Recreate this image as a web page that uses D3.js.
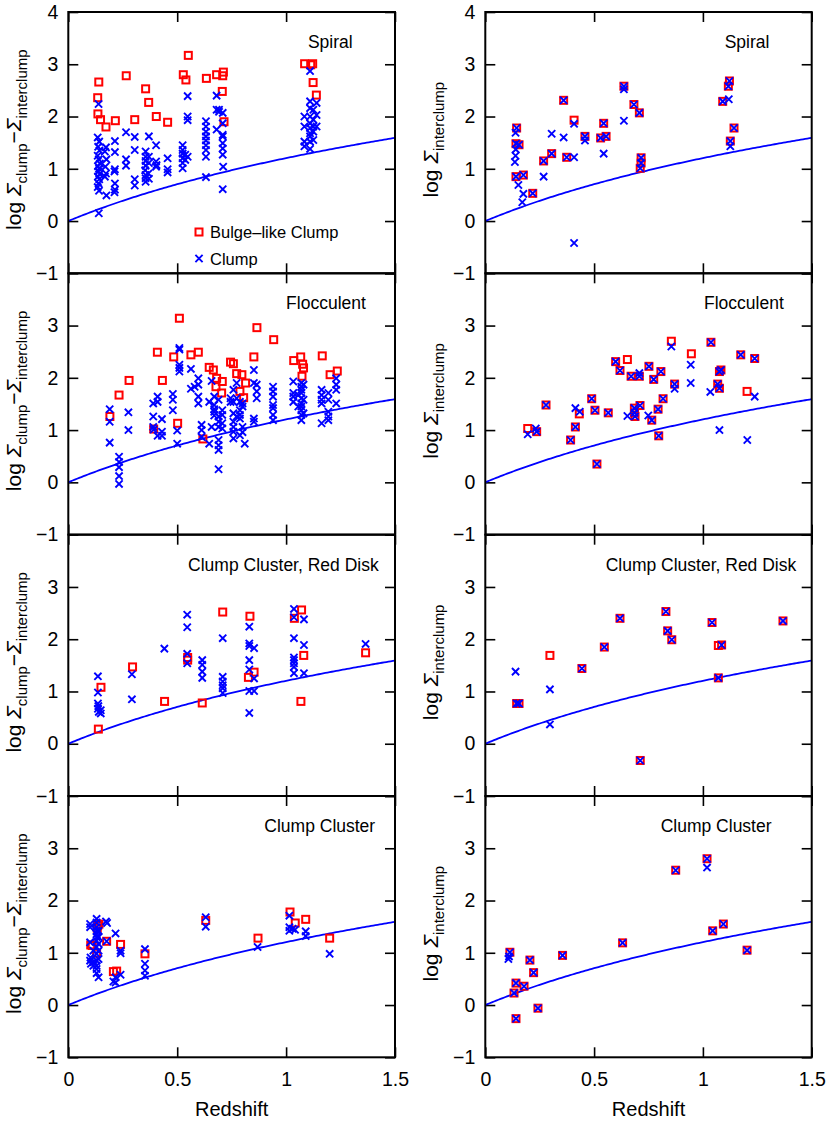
<!DOCTYPE html>
<html><head><meta charset="utf-8">
<script src="https://cdn.jsdelivr.net/npm/d3@7"></script>
<style>
body{margin:0;background:#fff}
svg{display:block}
text{font-family:"Liberation Sans",Arial,Helvetica,sans-serif;fill:#000}
</style>
</head><body>
<svg id="c" width="830" height="1126"></svg>
<script>
// ---------------- DATA ----------------
const panelTitles = ["Spiral", "Flocculent", "Clump Cluster, Red Disk", "Clump Cluster"];
const xTickValues = [0, 0.5, 1, 1.5];
const xTickLabels = ["0", "0.5", "1", "1.5"];
const yTickValues = [-1, 0, 1, 2, 3, 4];
const yTickLabels = ["\u22121", "0", "1", "2", "3", "4"];
const legendLabels = ["Bulge\u2013like Clump", "Clump"];
const xAxisTitle = "Redshift";

// Spiral, log Σclump − Σinterclump  [redshift, value]
const spiralBulgeL = [[0.14,2.66],[0.135,2.36],[0.136,2.05],[0.148,1.94],[0.173,1.80],[0.216,1.92],[0.266,2.78],[0.305,1.94],[0.355,2.53],[0.369,2.27],[0.404,2.00],[0.456,1.89],[0.528,2.80],[0.540,2.70],[0.551,3.17],[0.634,2.73],[0.681,2.80],[0.712,2.85],[0.709,2.78],[0.707,2.48],[0.715,1.90],[1.085,3.01],[1.113,2.99],[1.122,3.01],[1.124,2.65],[1.139,2.41]];
const spiralClumpL = [[0.139,2.24],[0.135,1.60],[0.142,1.52],[0.137,1.42],[0.143,1.35],[0.135,1.25],[0.140,1.18],[0.145,1.10],[0.136,1.05],[0.141,1.00],[0.138,0.95],[0.144,0.90],[0.136,0.85],[0.142,0.80],[0.139,0.72],[0.135,0.65],[0.141,0.58],[0.140,0.15],
[0.173,1.41],[0.168,1.33],[0.175,1.18],[0.170,1.04],[0.173,0.91],[0.168,0.85],[0.175,0.49],
[0.214,1.53],[0.214,1.32],[0.214,0.99],[0.212,0.95],[0.214,0.72],[0.214,0.60],[0.212,0.55],
[0.265,1.70],[0.265,1.18],[0.265,1.06],
[0.305,1.61],[0.305,1.36],[0.305,0.80],[0.305,0.68],
[0.355,1.33],[0.355,1.23],[0.355,1.15],[0.355,1.06],[0.353,0.97],[0.355,0.88],[0.355,0.82],[0.355,0.75],
[0.370,1.62],[0.370,1.23],[0.370,1.11],[0.368,0.91],[0.370,0.81],
[0.403,1.45],[0.403,1.14],[0.405,1.07],[0.403,1.04],
[0.456,1.20],[0.456,0.99],[0.456,0.93],
[0.525,1.45],[0.525,1.36],[0.525,1.29],[0.525,1.20],[0.525,1.11],[0.525,1.01],
[0.537,1.27],[0.537,1.17],
[0.548,2.39],[0.548,2.00],[0.548,1.93],[0.548,1.23],
[0.632,1.91],[0.632,1.81],[0.632,1.71],[0.632,1.62],[0.632,1.54],[0.632,1.45],[0.632,1.36],[0.632,1.23],[0.632,0.84],
[0.681,2.40],[0.681,2.13],[0.681,1.75],
[0.692,2.13],[0.692,2.09],
[0.709,2.07],[0.709,1.87],[0.709,1.65],[0.709,1.62],[0.709,1.49],[0.709,1.39],[0.709,1.27],[0.711,1.04],[0.709,0.61],
[1.084,2.00],[1.084,1.81],[1.084,1.52],[1.084,1.43],
[1.110,2.87],[1.110,2.29],[1.110,2.16],[1.110,2.00],[1.110,1.87],[1.110,1.78],[1.110,1.68],[1.110,1.62],[1.110,1.52],[1.110,1.38],
[1.125,2.13],[1.125,1.94],[1.125,1.81],[1.125,1.71],[1.125,1.55],
[1.140,2.26],[1.140,2.03],[1.140,1.81]];

// Spiral, log Σinterclump
const spiralBulgeR = [[0.144,1.78],[0.141,1.48],[0.155,1.46],[0.141,0.85],[0.175,0.88],[0.218,0.53],[0.268,1.15],[0.305,1.29],[0.360,2.31],[0.374,1.22],[0.408,1.93],[0.458,1.62],[0.530,1.59],[0.544,1.87],[0.555,1.62],[0.637,2.58],[0.683,2.23],[0.708,2.07],[0.716,1.21],[0.716,1.11],[0.712,1.01],[1.091,2.29],[1.117,2.58],[1.122,2.68],[1.126,1.53],[1.143,1.78]];
const spiralClumpR = [[0.144,1.78],[0.141,1.48],[0.155,1.46],[0.141,0.85],[0.175,0.88],[0.218,0.53],[0.268,1.15],[0.305,1.29],[0.360,2.31],[0.374,1.22],[0.458,1.62],[0.530,1.59],[0.544,1.87],[0.555,1.62],[0.637,2.58],[0.683,2.23],[0.708,2.07],[0.716,1.21],[0.716,1.11],[0.712,1.01],[1.091,2.29],[1.117,2.58],[1.122,2.68],[1.126,1.53],[1.143,1.78],
[0.139,1.69],[0.140,1.37],[0.139,1.25],[0.136,1.13],[0.152,0.69],[0.175,0.52],[0.170,0.36],[0.268,0.85],[0.305,1.67],[0.360,1.60],[0.408,1.22],[0.408,1.86],[0.408,-0.42],[0.458,1.54],[0.544,1.29],[0.637,2.52],[0.637,1.92],[1.119,2.33],[1.126,1.43]];

// Flocculent, log Σclump − Σinterclump
const floccBulgeL = [[0.191,1.26],[0.233,1.67],[0.279,1.95],[0.392,1.02],[0.409,2.49],[0.432,1.95],[0.484,2.40],[0.502,1.13],[0.510,3.14],[0.563,2.44],[0.597,2.49],[0.618,0.83],[0.647,2.20],[0.666,2.15],[0.681,1.99],[0.678,1.83],[0.707,1.93],[0.704,1.71],[0.745,2.30],[0.758,2.27],[0.773,2.08],[0.797,2.06],[0.788,1.74],[0.805,1.62],[0.814,1.90],[0.852,2.40],[0.866,2.96],[0.943,2.73],[1.035,2.33],[1.067,2.40],[1.076,2.26],[1.080,2.19],[1.073,2.03],[1.166,2.42],[1.202,2.06],[1.235,2.13]];
const floccClumpL = [[0.19,1.40],[0.19,1.16],[0.19,0.76],
[0.233,0.49],[0.233,0.39],[0.233,0.29],[0.233,0.12],[0.233,-0.03],
[0.276,1.34],[0.276,1.00],
[0.39,1.51],[0.39,1.26],[0.39,1.06],[0.392,1.01],
[0.41,1.64],[0.41,1.54],[0.41,0.89],
[0.43,1.21],[0.43,0.97],[0.43,0.89],
[0.48,1.69],[0.48,1.58],[0.48,1.38],
[0.50,0.99],[0.50,0.74],
[0.51,2.57],[0.51,2.54],[0.51,2.25],[0.51,2.19],[0.51,2.12],
[0.563,2.17],[0.563,1.79],
[0.58,1.83],
[0.597,1.99],[0.597,1.87],[0.597,1.64],[0.597,1.51],
[0.612,1.10],[0.612,1.00],[0.612,0.87],
[0.647,1.54],[0.647,0.74],
[0.658,1.94],[0.658,1.06],
[0.67,1.64],[0.67,1.48],[0.67,1.40],[0.67,1.35],[0.67,1.28],
[0.69,1.58],[0.69,1.26],[0.69,1.16],[0.69,1.06],[0.69,0.81],[0.69,0.71],[0.69,0.62],[0.69,0.25],
[0.707,1.38],[0.707,1.29],[0.707,1.13],[0.707,1.03],
[0.745,1.61],[0.745,1.54],
[0.758,1.77],[0.758,1.54],[0.758,1.32],[0.758,1.16],[0.758,1.06],[0.758,0.97],[0.758,0.84],
[0.773,1.90],[0.773,1.61],[0.773,1.26],
[0.788,1.54],[0.788,1.38],[0.788,1.29],[0.788,1.22],[0.788,0.90],
[0.80,1.51],[0.80,1.45],[0.80,1.06],[0.80,0.96],
[0.81,0.74],
[0.852,2.15],[0.852,1.90],[0.852,1.22],[0.852,1.16],
[0.865,1.87],[0.865,1.74],[0.865,1.61],
[0.94,1.83],[0.94,1.74],[0.94,1.64],[0.94,1.48],[0.94,1.42],[0.94,1.29],[0.94,1.19],
[1.033,1.93],[1.033,1.71],[1.033,1.64],[1.033,1.54],
[1.056,1.67],[1.056,1.45],
[1.07,1.90],[1.07,1.83],[1.07,1.77],[1.07,1.71],[1.07,1.61],[1.07,1.51],[1.07,1.45],[1.07,1.38],[1.07,1.29],[1.07,1.19],
[1.08,1.87],[1.08,1.58],[1.08,1.32],
[1.163,1.77],[1.163,1.67],[1.163,1.58],[1.163,1.51],[1.163,1.13],
[1.194,1.71],[1.194,1.58],[1.194,1.35],[1.194,1.26],[1.194,1.19],
[1.23,1.99],[1.23,1.87],[1.23,1.77],[1.23,1.51]];

// Flocculent, log Σinterclump
const floccBulgeR = [[0.195,1.03],[0.236,0.97],[0.279,1.48],[0.392,0.81],[0.414,1.06],[0.432,1.31],[0.489,1.60],[0.504,1.38],[0.513,0.35],[0.565,1.33],[0.599,2.31],[0.619,2.14],[0.653,2.35],[0.670,2.03],[0.685,1.42],[0.688,1.26],[0.686,1.33],[0.708,2.03],[0.711,1.47],[0.752,2.22],[0.765,1.19],[0.774,1.97],[0.794,1.40],[0.797,0.89],[0.807,2.12],[0.817,1.60],[0.855,2.70],[0.870,1.88],[0.947,2.46],[1.037,2.68],[1.068,1.88],[1.076,2.12],[1.083,2.15],[1.076,1.80],[1.174,2.44],[1.203,1.74],[1.238,2.37]];
const floccClumpR = [[0.195,0.92],[0.236,0.97],[0.232,1.03],[0.279,1.48],[0.392,0.81],[0.414,1.06],[0.414,1.42],[0.434,1.35],[0.489,1.60],[0.504,1.38],[0.513,0.35],[0.565,1.33],[0.599,2.31],[0.619,2.14],[0.653,1.27],[0.670,2.03],[0.685,1.42],[0.688,1.26],[0.686,1.33],[0.708,2.03],[0.708,2.09],[0.711,1.47],[0.749,1.28],[0.752,2.22],[0.765,1.19],[0.774,1.97],[0.794,1.40],[0.797,0.89],[0.807,2.12],[0.817,1.60],[0.855,2.60],[0.870,1.88],[0.870,1.79],[0.944,2.25],[0.944,1.90],[1.034,1.73],[1.037,2.68],[1.068,1.88],[1.076,2.12],[1.083,2.15],[1.076,1.80],[1.076,1.00],[1.174,2.44],[1.204,0.81],[1.238,2.37],[1.238,1.64]];

// Clump Cluster, Red Disk, log Σclump − Σinterclump
const ccrdBulgeL = [[0.138,0.28],[0.150,1.08],[0.295,1.47],[0.442,0.81],[0.548,1.65],[0.548,1.60],[0.615,0.78],[0.709,2.52],[0.834,2.44],[0.827,1.27],[0.853,1.37],[1.038,2.40],[1.071,2.56],[1.081,1.69],[1.068,0.81],[1.365,1.74]];
const ccrdClumpL = [[0.136,1.29],[0.136,0.98],[0.136,0.77],[0.138,0.72],[0.136,0.67],[0.140,0.61],[0.149,0.64],[0.149,0.58],
[0.292,1.33],[0.292,0.85],[0.441,1.82],
[0.546,2.47],[0.546,2.23],[0.546,1.72],[0.546,1.54],
[0.615,1.60],[0.615,1.51],[0.615,1.38],[0.615,1.26],
[0.709,2.02],[0.709,1.28],[0.709,1.19],[0.709,1.12],[0.709,1.06],[0.709,0.97],
[0.831,2.24],[0.831,1.92],[0.831,1.87],[0.831,1.60],[0.831,1.42],[0.831,1.01],[0.831,0.59],
[0.853,1.83],[0.853,1.25],[0.853,1.01],
[1.036,2.58],[1.036,2.42],[1.036,2.02],[1.036,1.65],[1.036,1.60],[1.036,1.54],[1.036,1.47],[1.036,1.35],
[1.082,2.38],[1.082,1.89],[1.082,1.35],[1.365,1.91]];

// Clump Cluster, Red Disk, log Σinterclump
const ccrdBulgeR = [[0.144,0.77],[0.155,0.77],[0.297,1.69],[0.444,1.44],[0.547,1.85],[0.619,2.40],[0.712,-0.32],[0.830,2.53],[0.838,2.16],[0.857,1.99],[1.042,2.32],[1.071,1.88],[1.086,1.89],[1.071,1.26],[1.368,2.35]];
const ccrdClumpR = [[0.144,0.77],[0.155,0.77],[0.139,1.38],[0.297,1.04],[0.297,0.37],[0.444,1.44],[0.547,1.85],[0.619,2.40],[0.712,-0.32],[0.830,2.53],[0.838,2.16],[0.857,1.99],[1.042,2.32],[1.086,1.89],[1.071,1.26],[1.368,2.35]];

// Clump Cluster, log Σclump − Σinterclump
const ccBulgeL = [[0.103,1.15],[0.110,1.14],[0.130,0.99],[0.133,1.47],[0.135,1.52],[0.141,1.55],[0.176,1.22],[0.207,0.64],[0.222,0.65],[0.240,1.16],[0.352,0.98],[0.631,1.62],[0.871,1.28],[1.018,1.78],[1.042,1.57],[1.090,1.64],[1.200,1.28]];
const ccClumpL = [[0.100,1.55],[0.100,1.49],[0.100,1.20],[0.102,0.91],[0.100,0.85],[0.104,0.79],
[0.115,1.04],[0.115,0.82],[0.115,0.75],
[0.130,1.65],[0.130,1.58],[0.130,1.49],[0.130,1.42],[0.130,1.36],[0.130,1.30],[0.130,1.23],[0.130,1.11],[0.130,0.98],[0.130,0.85],[0.130,0.75],[0.130,0.69],[0.130,0.61],
[0.139,1.42],[0.139,1.30],[0.139,1.17],[0.139,1.04],[0.139,0.88],[0.139,0.53],
[0.173,1.60],[0.178,1.57],[0.176,1.22],
[0.217,1.37],[0.217,0.53],[0.217,0.43],[0.207,0.45],
[0.240,1.04],[0.240,0.99],[0.240,0.58],
[0.352,1.07],[0.352,0.79],[0.352,0.66],[0.352,0.56],
[0.631,1.68],[0.631,1.50],[0.869,1.11],
[1.015,1.71],[1.015,1.49],[1.015,1.42],[1.030,1.46],[1.041,1.44],
[1.090,1.41],[1.090,1.32],[1.200,0.98]];

// Clump Cluster, log Σinterclump
const ccBulgeR = [[0.113,1.01],[0.132,0.23],[0.141,0.42],[0.141,-0.26],[0.178,0.36],[0.205,0.86],[0.222,0.62],[0.242,-0.06],[0.355,0.95],[0.631,1.19],[0.875,2.58],[1.019,2.80],[1.045,1.42],[1.094,1.55],[1.203,1.05]];
const ccClumpR = [[0.113,1.01],[0.132,0.23],[0.141,0.42],[0.141,-0.26],[0.178,0.36],[0.205,0.86],[0.222,0.62],[0.242,-0.06],[0.355,0.95],[0.631,1.19],[0.875,2.58],[1.019,2.80],[1.045,1.42],[1.094,1.55],[1.203,1.05],[0.106,0.88],[0.109,0.93],[1.019,2.63]];

// Surface-brightness dimming model (1+z)^4 : log10 of it
const dimmingModel = z => 4 * Math.log10(1 + z);

// ---------------- LAYOUT ----------------
const RED = "#ff0000", BLUE = "#0000ff";
const colX = [[68.3, 395], [485.3, 811.7]];
const rowTop = [12, 273.3, 534.7, 796];
const panelH = 261.3;
const titleStart = [[1.10, 1.00, 0.55, 0.90], [1.10, 1.005, 0.553, 0.806]];

const panels = [
  [spiralBulgeL, spiralClumpL, spiralBulgeR, spiralClumpR],
  [floccBulgeL, floccClumpL, floccBulgeR, floccClumpR],
  [ccrdBulgeL, ccrdClumpL, ccrdBulgeR, ccrdClumpR],
  [ccBulgeL, ccClumpL, ccBulgeR, ccClumpR]
];

const svg = d3.select("#c");
const FONT = "Liberation Sans, Arial, Helvetica, sans-serif";

function drawSquare(g, x, y, data) {
  const h = 3.5;
  g.selectAll(null).data(data).join("rect")
    .attr("x", d => x(d[0]) - h).attr("y", d => y(d[1]) - h)
    .attr("width", 2 * h).attr("height", 2 * h)
    .attr("fill", "none").attr("stroke", RED).attr("stroke-width", 2);
}
function drawCross(g, x, y, data) {
  const s = 3.6;
  g.selectAll(null).data(data).join("path")
    .attr("d", d => {
      const cx = x(d[0]), cy = y(d[1]);
      return `M${cx-s},${cy-s}L${cx+s},${cy+s}M${cx-s},${cy+s}L${cx+s},${cy-s}`;
    })
    .attr("fill", "none").attr("stroke", BLUE).attr("stroke-width", 1.9);
}

function styleAxis(sel) {
  sel.select(".domain").remove();
  sel.selectAll(".tick line").attr("stroke", "#000").attr("stroke-width", 1.6);
  sel.selectAll(".tick text").attr("font-family", FONT).attr("font-size", 19.5).attr("fill", "#000");
}

for (let row = 0; row < 4; row++) {
  for (let col = 0; col < 2; col++) {
    const [x0, x1] = colX[col];
    const yTop = rowTop[row], yBot = yTop + panelH;
    const x = d3.scaleLinear().domain([0, 1.5]).range([x0, x1]);
    const y = d3.scaleLinear().domain([-1, 4]).range([yBot, yTop]);
    const g = svg.append("g");

    // ticks
    const showX = row === 3;
    g.append("g").attr("transform", `translate(0,${yBot})`)
      .call(d3.axisBottom(x).tickValues(xTickValues).tickSize(-10).tickPadding(14.5)
        .tickFormat((d, i) => showX ? xTickLabels[i] : ""))
      .call(styleAxis);
    g.append("g").attr("transform", `translate(0,${yTop})`)
      .call(d3.axisTop(x).tickValues(xTickValues).tickSize(-10).tickFormat(""))
      .call(styleAxis);
    const yVals = row === 0 ? yTickValues : yTickValues.slice(0, 5);
    g.append("g").attr("transform", `translate(${x0},0)`)
      .call(d3.axisLeft(y).tickValues(yVals).tickSize(-10).tickPadding(10)
        .tickFormat(d => yTickLabels[yTickValues.indexOf(d)]))
      .call(styleAxis);
    g.append("g").attr("transform", `translate(${x1},0)`)
      .call(d3.axisRight(y).tickValues(yTickValues).tickSize(-10).tickFormat(""))
      .call(styleAxis);

    // model curve
    const zs = d3.range(0, 1.5001, 0.01);
    g.append("path").datum(zs)
      .attr("d", d3.line().x(z => x(z)).y(z => y(dimmingModel(z))))
      .attr("fill", "none").attr("stroke", BLUE).attr("stroke-width", 1.8);

    // markers
    const [bL, cL, bR, cR] = panels[row];
    drawSquare(g, x, y, col === 0 ? bL : bR);
    drawCross(g, x, y, col === 0 ? cL : cR);

    // frame
    g.append("rect").attr("x", x0).attr("y", yTop).attr("width", x1 - x0).attr("height", panelH)
      .attr("fill", "none").attr("stroke", "#000").attr("stroke-width", 2);

    // panel title
    g.append("text").attr("x", x(titleStart[col][row])).attr("y", yTop + 36)
      .attr("font-size", 17.5).text(panelTitles[row]);

    // y label
    const cy = yTop + panelH / 2 - 3;
    const lab = g.append("text")
      .attr("transform", `translate(${col === 0 ? 21 : 438},${cy}) rotate(-90)`)
      .attr("text-anchor", "middle").attr("font-size", 21);
    if (col === 0) {
      lab.append("tspan").text("log ");
      lab.append("tspan").attr("font-style", "italic").text("\u03A3");
      lab.append("tspan").attr("font-size", 15).attr("dy", 6).text("clump");
      lab.append("tspan").attr("dy", -6).text("\u2212");
      lab.append("tspan").attr("font-style", "italic").text("\u03A3");
      lab.append("tspan").attr("font-size", 15).attr("dy", 6).text("interclump");
    } else {
      lab.append("tspan").text("log ");
      lab.append("tspan").attr("font-style", "italic").text("\u03A3");
      lab.append("tspan").attr("font-size", 15).attr("dy", 6).text("interclump");
    }

    // x axis title
    if (row === 3) {
      svg.append("text").attr("x", (x0 + x1) / 2).attr("y", 1116)
        .attr("text-anchor", "middle").attr("font-size", 20).text(xAxisTitle);
    }

    // legend (top-left panel only)
    if (row === 0 && col === 0) {
      drawSquare(g, v => v, v => v, [[199, 232]]);
      drawCross(g, v => v, v => v, [[199, 258.5]]);
      g.append("text").attr("x", 210).attr("y", 238).attr("font-size", 16.5).text(legendLabels[0]);
      g.append("text").attr("x", 210).attr("y", 264.5).attr("font-size", 16.5).text(legendLabels[1]);
    }
  }
}
</script>
</body></html>
